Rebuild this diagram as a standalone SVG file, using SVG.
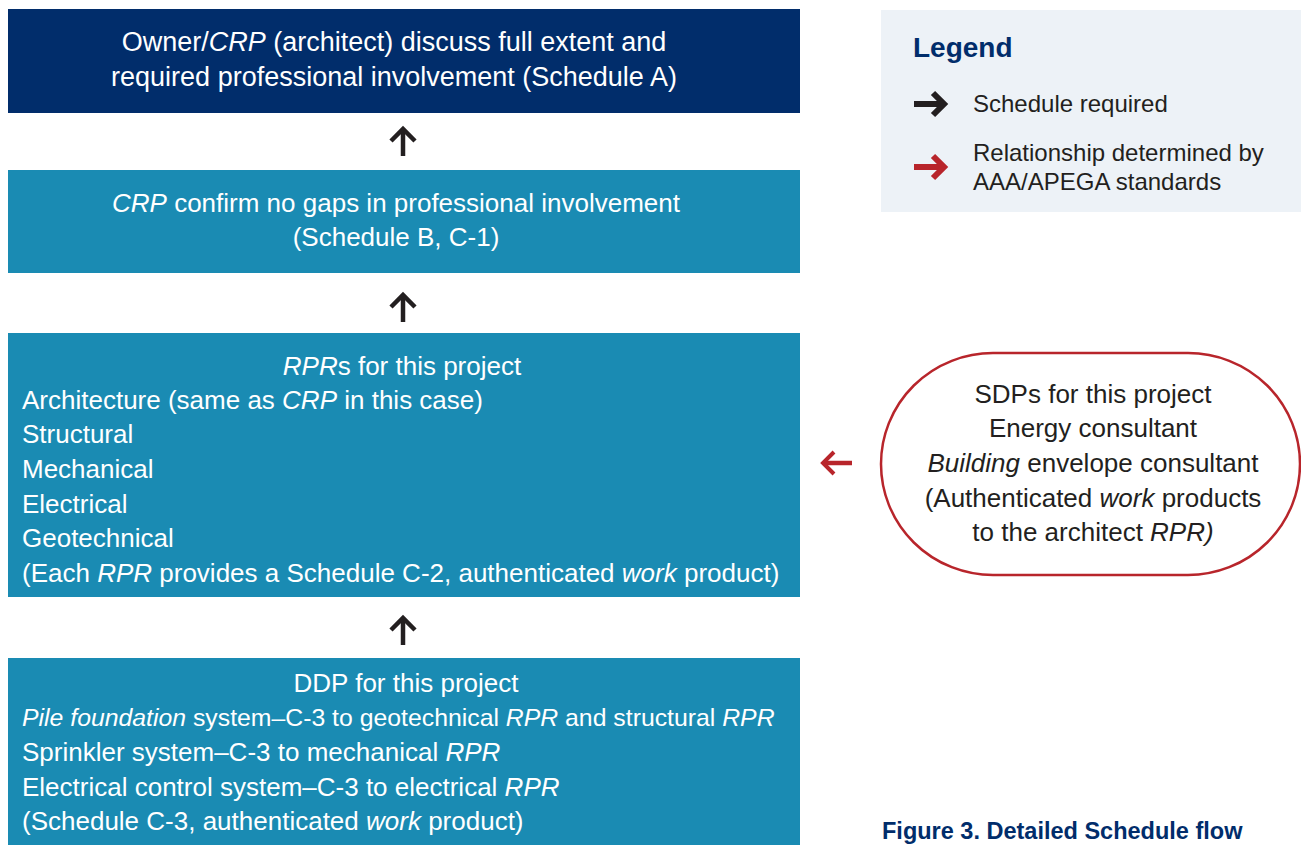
<svg xmlns="http://www.w3.org/2000/svg" width="1301" height="845" viewBox="0 0 1301 845">
<style>
.t{font-family:"Liberation Sans",Arial,sans-serif;font-size:26px;fill:#ffffff}
.c{text-anchor:middle}
.d{fill:#231f20}
.i{font-style:italic}
.h{font-size:27px}
.l{font-size:24px}
.s{font-size:24.8px}
.blk{stroke:#231f20;stroke-width:4.5;fill:none}
.red{stroke:#b8252b;stroke-width:4.5;fill:none}
.lg{stroke-width:6}
</style>
<defs>
<marker id="hb" markerUnits="userSpaceOnUse" markerWidth="30" markerHeight="30" refX="15" refY="15" orient="auto" viewBox="0 0 30 30">
<path d="M3,3 L15,15 L3,27" stroke="#231f20" stroke-width="4.5" fill="none"/>
</marker>
<marker id="hr" markerUnits="userSpaceOnUse" markerWidth="30" markerHeight="30" refX="15" refY="15" orient="auto" viewBox="0 0 30 30">
<path d="M4,4 L15,15 L4,26" stroke="#b8252b" stroke-width="4" fill="none"/>
</marker>
<marker id="hbl" markerUnits="userSpaceOnUse" markerWidth="30" markerHeight="30" refX="15" refY="15" orient="auto" viewBox="0 0 30 30">
<path d="M4,4 L15,15 L4,26" stroke="#231f20" stroke-width="6" fill="none"/>
</marker>
<marker id="hrl" markerUnits="userSpaceOnUse" markerWidth="30" markerHeight="30" refX="15" refY="15" orient="auto" viewBox="0 0 30 30">
<path d="M4,4 L15,15 L4,26" stroke="#b8252b" stroke-width="6" fill="none"/>
</marker>
</defs>
<rect width="1301" height="845" fill="#ffffff"/>

<g id="node-owner">
<rect x="8" y="9" width="792" height="104" fill="#012d6b"/>
<text class="t c h" x="394" y="51">Owner/<tspan class="i">CRP</tspan> (architect) discuss full extent and</text>
<text class="t c h" x="394" y="86">required professional involvement (Schedule A)</text>
</g>

<g id="node-crp">
<rect x="8" y="170" width="792" height="103" fill="#1a8bb3"/>
<text class="t c" x="396" y="212"><tspan class="i">CRP</tspan> confirm no gaps in professional involvement</text>
<text class="t c" x="396" y="246">(Schedule B, C-1)</text>
</g>

<g id="node-rpr">
<rect x="8" y="333" width="792" height="264" fill="#1a8bb3"/>
<text class="t c" x="402" y="375"><tspan class="i">RPR</tspan>s for this project</text>
<text class="t" x="22" y="409">Architecture (same as <tspan class="i">CRP</tspan> in this case)</text>
<text class="t" x="22" y="443">Structural</text>
<text class="t" x="22" y="478">Mechanical</text>
<text class="t" x="22" y="513">Electrical</text>
<text class="t" x="22" y="547">Geotechnical</text>
<text class="t" x="22" y="582">(Each <tspan class="i">RPR</tspan> provides a Schedule C-2, authenticated <tspan class="i">work</tspan> product)</text>
</g>

<g id="node-ddp">
<rect x="8" y="658" width="792" height="187" fill="#1a8bb3"/>
<text class="t c" x="406" y="692">DDP for this project</text>
<text class="t s" x="22" y="726"><tspan class="i">Pile foundation</tspan> system–C-3 to geotechnical <tspan class="i">RPR</tspan> and structural <tspan class="i">RPR</tspan></text>
<text class="t" x="22" y="761">Sprinkler system–C-3 to mechanical <tspan class="i">RPR</tspan></text>
<text class="t" x="22" y="796">Electrical control system–C-3 to electrical <tspan class="i">RPR</tspan></text>
<text class="t" x="22" y="830">(Schedule C-3, authenticated <tspan class="i">work</tspan> product)</text>
</g>

<g id="node-sdp">
<rect x="881" y="353" width="419" height="222" rx="112" ry="111" fill="#ffffff" stroke="#b8252b" stroke-width="2.5"/>
<text class="t c d" x="1093" y="403">SDPs for this project</text>
<text class="t c d" x="1093" y="437">Energy consultant</text>
<text class="t c d" x="1093" y="472"><tspan class="i">Building</tspan> envelope consultant</text>
<text class="t c d" x="1093" y="507">(Authenticated <tspan class="i">work</tspan> products</text>
<text class="t c d" x="1093" y="541">to the architect <tspan class="i">RPR)</tspan></text>
</g>

<g id="legend">
<rect x="881" y="10" width="420" height="202" fill="#edf2f7"/>
<text x="913" y="57" style="font-family:'Liberation Sans',Arial,sans-serif;font-size:28px;font-weight:bold;fill:#012d6b">Legend</text>
<line class="blk lg" x1="914" y1="104" x2="944" y2="104" marker-end="url(#hbl)"/>
<text class="t d l" x="973" y="112">Schedule required</text>
<line class="red lg" x1="914" y1="167" x2="944" y2="167" marker-end="url(#hrl)"/>
<text class="t d l" x="973" y="161">Relationship determined by</text>
<text class="t d l" x="973" y="190">AAA/APEGA standards</text>
</g>

<g id="connectors">
<line class="blk" x1="403" y1="156" x2="403" y2="129" marker-end="url(#hb)"/>
<line class="blk" x1="403" y1="322" x2="403" y2="295" marker-end="url(#hb)"/>
<line class="blk" x1="403" y1="645" x2="403" y2="618" marker-end="url(#hb)"/>
<line class="red" x1="852" y1="463" x2="823" y2="463" marker-end="url(#hr)"/>
</g>

<text x="882" y="839" style="font-family:'Liberation Sans',Arial,sans-serif;font-size:23.5px;font-weight:bold;fill:#012d6b">Figure 3. Detailed Schedule flow</text>
</svg>
